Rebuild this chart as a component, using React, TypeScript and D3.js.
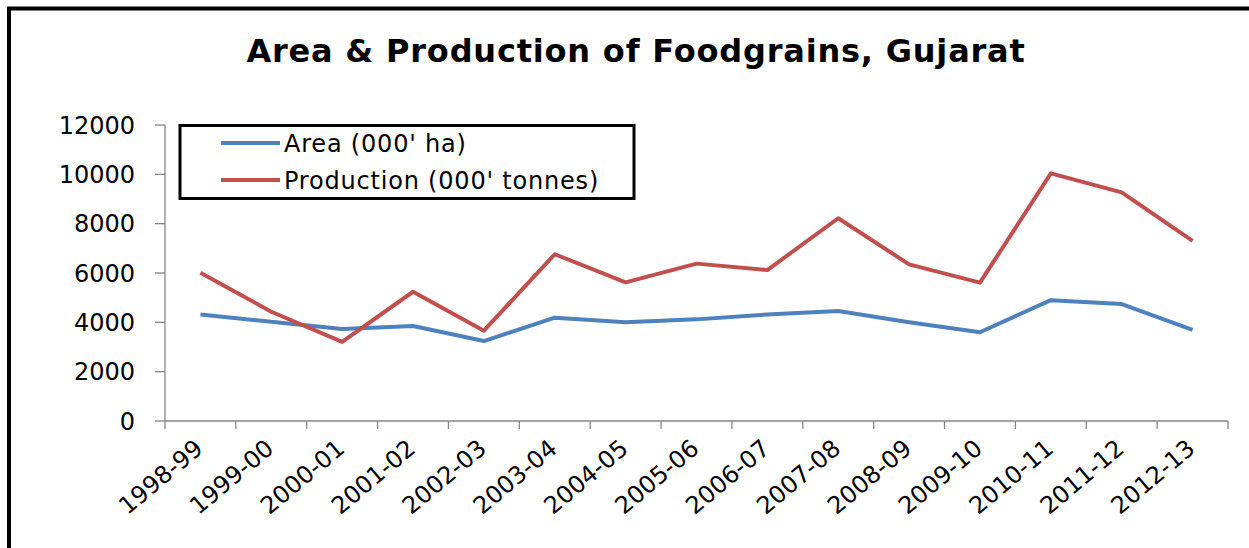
import React from "react";
import * as d3 from "d3";

const categories = ["1998-99","1999-00","2000-01","2001-02","2002-03","2003-04","2004-05","2005-06","2006-07","2007-08","2008-09","2009-10","2010-11","2011-12","2012-13"];
const areaValues = [4320, 4020, 3730, 3850, 3240, 4190, 4000, 4120, 4320, 4460, 4000, 3600, 4900, 4740, 3690];
const productionValues = [6010, 4430, 3210, 5240, 3660, 6760, 5620, 6380, 6120, 8220, 6350, 5610, 10040, 9270, 7300];
const yTicks = [0, 2000, 4000, 6000, 8000, 10000, 12000];
const seriesNames = ["Area (000' ha)", "Production (000' tonnes)"];
const seriesColors = ["#4F81BD", "#C0504D"];
const title = "Area & Production of Foodgrains, Gujarat";

export default function App() {
  const W = 1249, H = 548;
  const x0 = 165, x1 = 1228, yTop = 125, yBot = 421;
  const x = d3.scaleBand().domain(categories).range([x0, x1]);
  const y = d3.scaleLinear().domain([0, 12000]).range([yBot, yTop]);
  const cx = (c: string) => (x(c) as number) + x.bandwidth() / 2;
  const line = d3.line<number>().x((_, i) => cx(categories[i])).y((v) => y(v));
  const series = [areaValues, productionValues];
  const font = "'DejaVu Sans', Verdana, sans-serif";
  const axisColor = "#868686";
  const tickXs = [...categories.map((c) => x(c) as number), x1];

  return (
    <svg width={W} height={H} style={{ position: "absolute", left: 0, top: 0, background: "#fff" }} fontFamily={font}>
      <rect x={0} y={0} width={W} height={H} fill="#fff" />
      <rect x={9} y={8.5} width={W + 20} height={H + 20} fill="none" stroke="#000" strokeWidth={4} />
      <text x={636} y={62} textAnchor="middle" fontSize={32} fontWeight="bold" letterSpacing={0.8} fill="#000">{title}</text>

      {/* Y axis */}
      <line x1={x0} x2={x0} y1={yTop} y2={yBot} stroke={axisColor} strokeWidth={1.3} />
      {yTicks.map((t) => (
        <g key={t}>
          <line x1={x0 - 10} x2={x0} y1={y(t)} y2={y(t)} stroke={axisColor} strokeWidth={1.3} />
          <text x={135} y={y(t)} dy="0.36em" textAnchor="end" fontSize={24} fill="#000">{t}</text>
        </g>
      ))}

      {/* X axis */}
      <line x1={x0} x2={x1} y1={yBot} y2={yBot} stroke={axisColor} strokeWidth={1.3} />
      {tickXs.map((tx, i) => (
        <line key={i} x1={tx} x2={tx} y1={yBot} y2={yBot + 8} stroke={axisColor} strokeWidth={1.3} />
      ))}
      {categories.map((c) => (
        <text key={c} transform={`translate(${cx(c) + 4},${yBot + 30}) rotate(-40)`} textAnchor="end" fontSize={24} fill="#000">{c}</text>
      ))}

      {/* Lines */}
      {series.map((s, i) => (
        <path key={i} d={line(s) as string} fill="none" stroke={seriesColors[i]} strokeWidth={4} strokeLinejoin="round" />
      ))}

      {/* Legend */}
      <rect x={180} y={125.5} width={454} height={73} fill="#fff" stroke="#000" strokeWidth={3} />
      {seriesNames.map((n, i) => (
        <g key={n}>
          <line x1={221} x2={280} y1={143 + i * 37} y2={143 + i * 37} stroke={seriesColors[i]} strokeWidth={4} />
          <text x={284} y={143 + i * 37} dy="0.36em" fontSize={24} letterSpacing={0.8} fill="#000">{n}</text>
        </g>
      ))}
    </svg>
  );
}
